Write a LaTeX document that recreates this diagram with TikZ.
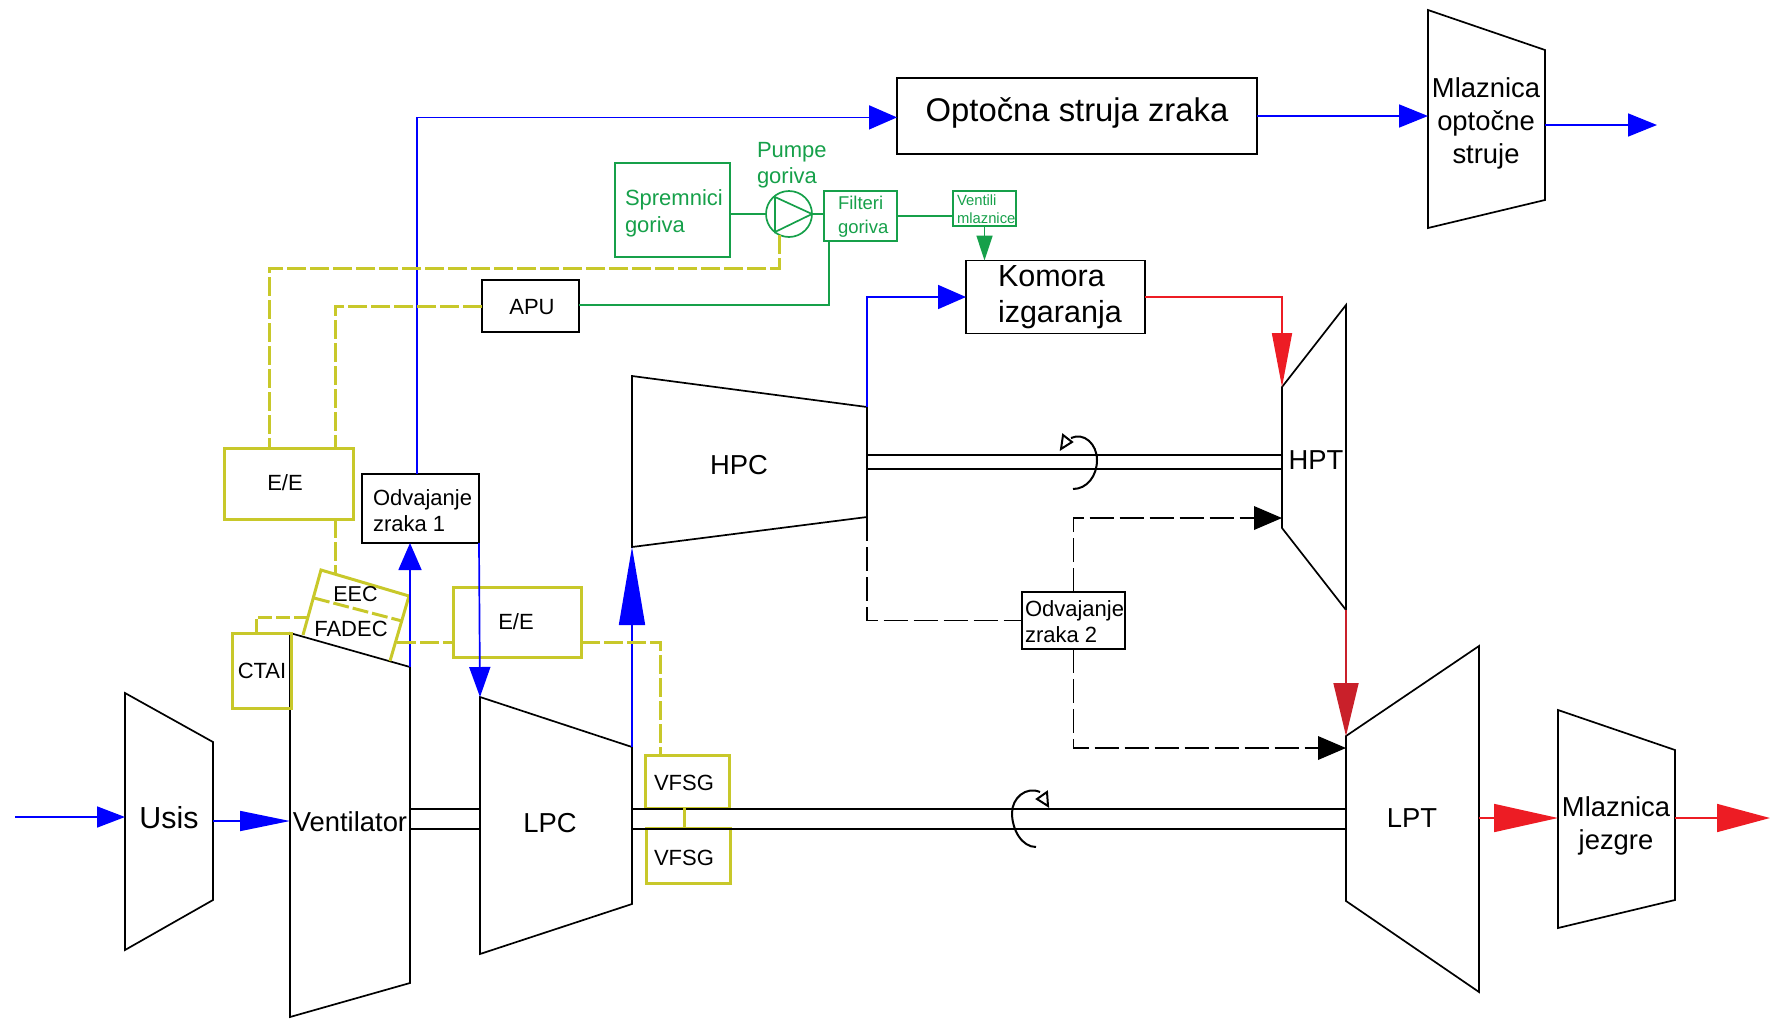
\documentclass[tikz,border=0pt]{standalone}
\usepackage{fontspec}
\setmainfont{Liberation Sans}
\usetikzlibrary{arrows.meta}
\definecolor{cblue}{HTML}{0000FF}
\definecolor{cgreen}{HTML}{16A04A}
\definecolor{colive}{HTML}{C8C82A}
\definecolor{cred}{HTML}{ED1C24}
\definecolor{ccrim}{HTML}{C9202A}
\tikzset{
  hd/.style 2 args={-{Triangle[length=#1pt,width=#2pt]}},
  outline/.style={draw=black,line width=1.7pt,line join=miter},
  box/.style={draw,line width=1.7pt,outer sep=0pt,inner sep=0pt,text=black},
  gbox/.style={box,draw=cgreen,text=cgreen},
  obox/.style={box,draw=colive,line width=3pt},
  lab/.style={inner sep=0pt,outer sep=0pt,align=center,font=\fontsize{27.4}{33}\selectfont},
  slab/.style={inner sep=0pt,outer sep=0pt,align=left,font=\fontsize{22}{26}\selectfont},
  bl/.style={draw=cblue,line width=1.7pt},
  gr/.style={draw=cgreen,line width=1.7pt},
  ol/.style={draw=colive,line width=3pt},
  oldash/.style={ol,dash pattern=on 19pt off 4pt},
  bldash/.style={draw=black,line width=1.7pt,dash pattern=on 24pt off 6pt},
  shaft/.style={draw=black,line width=1.7pt},
  rot/.style={draw=black,line width=2pt},
}
\begin{document}
\begin{tikzpicture}[x=1pt,y=-1pt]
\useasboundingbox (0,0) rectangle (1770,1018);
% corner and port coordinates
\coordinate (us1) at (125,693); \coordinate (us2) at (213,742); \coordinate (us3) at (213,900); \coordinate (us4) at (125,950);
\coordinate (ve1) at (290,633); \coordinate (ve2) at (410,667); \coordinate (ve3) at (410,983); \coordinate (ve4) at (290,1017);
\coordinate (lc1) at (480,697); \coordinate (lc2) at (632,747); \coordinate (lc3) at (632,904); \coordinate (lc4) at (480,954);
\coordinate (hc1) at (632,376); \coordinate (hc2) at (867,407); \coordinate (hc3) at (867,517); \coordinate (hc4) at (632,547);
\coordinate (ht1) at (1282,387); \coordinate (ht2) at (1346,305); \coordinate (ht3) at (1346,610); \coordinate (ht4) at (1282,528);
\coordinate (lt1) at (1346,736); \coordinate (lt2) at (1479,646); \coordinate (lt3) at (1479,992); \coordinate (lt4) at (1346,901);
\coordinate (mj1) at (1558,710); \coordinate (mj2) at (1675,750); \coordinate (mj3) at (1675,900); \coordinate (mj4) at (1558,928);
\coordinate (mo1) at (1428,10); \coordinate (mo2) at (1545,50); \coordinate (mo3) at (1545,200); \coordinate (mo4) at (1428,228);
% trapezoids
\draw[outline] (us1)--(us2)--(us3)--(us4)--cycle;
\draw[outline] (ve1)--(ve2)--(ve3)--(ve4)--cycle;
\draw[outline] (lc1)--(lc2)--(lc3)--(lc4)--cycle;
\draw[outline] (hc1)--(hc2)--(hc3)--(hc4)--cycle;
\draw[outline] (ht1)--(ht2)--(ht3)--(ht4)--cycle;
\draw[outline] (lt1)--(lt2)--(lt3)--(lt4)--cycle;
\draw[outline] (mj1)--(mj2)--(mj3)--(mj4)--cycle;
\draw[outline] (mo1)--(mo2)--(mo3)--(mo4)--cycle;
% trapezoid labels
\node[lab,font=\fontsize{30.4}{33}\selectfont] (tUsis) at (169,818) {Usis};
\node[lab] (tVent) at (350,822) {Ventilator};
\node[lab] (tLPC) at (550,823) {LPC};
\node[lab] (tHPC) at (739,465) {HPC};
\node[lab] (tHPT) at (1316,460) {HPT};
\node[lab] (tLPT) at (1412,818) {LPT};
\node[lab] (tMJ) at (1616,826) {Mlaznica\\jezgre};
\node[lab] (tMO) at (1486,123) {Mlaznica\\optočne\\struje};
% black boxes
\node[box,minimum width=360pt,minimum height=76pt] (opt) at (1077,116) {};
\node[lab,font=\fontsize{32.8}{36}\selectfont] (tOpt) at (1077,113) {Optočna struja zraka};
\node[box,minimum width=179pt,minimum height=73pt] (kom) at (1055.5,297) {};
\node[lab,align=left,anchor=west,font=\fontsize{30.5}{36}\selectfont] (tKom) at (998,297) {Komora\\izgaranja};
\node[box,minimum width=97pt,minimum height=52pt] (apu) at (530.5,306) {};
\node[slab] (tApu) at (532,307.5) {APU};
\node[box,minimum width=117pt,minimum height=69pt] (odvA) at (420.5,508.5) {};
\node[slab,anchor=west] (tOdvA) at (373,511) {Odvajanje\\zraka 1};
\node[box,minimum width=103pt,minimum height=57pt] (odvB) at (1073.5,620.5) {};
\node[slab,anchor=west] (tOdvB) at (1025,622) {Odvajanje\\zraka 2};
% olive boxes
\node[obox,minimum width=129pt,minimum height=71pt] (eeA) at (288.5,483.5) {};
\node[slab] (tEeA) at (285,482.5) {E/E};
\node[obox,minimum width=128pt,minimum height=70pt] (eeB) at (517,622) {};
\node[slab] (tEeB) at (516,621.5) {E/E};
\node[obox,minimum width=59pt,minimum height=75pt] (ctai) at (261.5,670.5) {};
\node[slab,font=\fontsize{22}{26}\selectfont] (tCtai) at (262,670.5) {CTAI};
\node[obox,minimum width=84pt,minimum height=53pt] (vfA) at (687,781.5) {};
\node[slab] (tVfA) at (684,783) {VFSG};
\node[obox,minimum width=84pt,minimum height=55pt] (vfB) at (688,855.5) {};
\node[slab] (tVfB) at (684,857.5) {VFSG};
% EEC / FADEC
\coordinate (ec1) at (321,570); \coordinate (ec2) at (409,596); \coordinate (ec3) at (390,661); \coordinate (ec4) at (303,635);
\coordinate (em1) at (314,598); \coordinate (em2) at (402,621);
\draw[ol] (ec4)--(ec1)--(ec2)--(ec3);
\draw[ol,dash pattern=on 16pt off 4pt] (em1)--(em2);
\node[slab,font=\fontsize{21.5}{26}\selectfont] (tEec) at (355.5,594) {EEC};
\node[slab,font=\fontsize{22}{26}\selectfont] (tFad) at (351,628.5) {FADEC};
% green boxes
\node[gbox,minimum width=115pt,minimum height=94pt] (spr) at (672.5,210) {};
\node[slab,anchor=west,text=cgreen,font=\fontsize{22}{27}\selectfont] (tSpr) at (625,213.5) {Spremnici\\goriva};
\node[lab,anchor=west,align=left,text=cgreen,font=\fontsize{22}{26}\selectfont] (tPum) at (757,165) {Pumpe\\goriva};
\node[gbox,minimum width=73pt,minimum height=50pt] (fil) at (860.5,216) {};
\node[slab,anchor=west,text=cgreen,font=\fontsize{18.5}{24}\selectfont] (tFil) at (838,217) {Filteri\\ goriva};
\node[gbox,minimum width=63pt,minimum height=35pt] (ven) at (984.5,208.5) {};
\node[slab,anchor=west,text=cgreen,font=\fontsize{14.8}{18}\selectfont] (tVen) at (957,209) {Ventili\\mlaznice};
\node[circle,draw=cgreen,line width=1.7pt,minimum size=46pt,inner sep=0pt,outer sep=0pt] (pump) at (789,214) {};
\coordinate (pa) at (775,197); \coordinate (pb) at (812,214); \coordinate (pc) at (775,232);
\draw[gr,line join=miter] (pa)--(pb)--(pc)--cycle;
% shafts
\coordinate (sa1) at (410,809); \coordinate (sa2) at (480,809); \coordinate (sa3) at (410,829); \coordinate (sa4) at (480,829);
\coordinate (sb1) at (632,809); \coordinate (sb2) at (1346,809); \coordinate (sb3) at (632,829); \coordinate (sb4) at (1346,829);
\coordinate (sc1) at (867,455); \coordinate (sc2) at (1282,455); \coordinate (sc3) at (867,469); \coordinate (sc4) at (1282,469);
\draw[shaft] (sa1)--(sa2); \draw[shaft] (sa3)--(sa4);
\draw[shaft] (sb1)--(sb2); \draw[shaft] (sb3)--(sb4);
\draw[shaft] (sc1)--(sc2); \draw[shaft] (sc3)--(sc4);
% rotation symbols
\coordinate (ra1) at (1036,847); \coordinate (ra2) at (1012,813); \coordinate (ra3) at (1040,792);
\draw[rot] (ra1) .. controls (1022,847) and (1012,830) .. (ra2) .. controls (1012,798) and (1026,786) .. (ra3);
\coordinate (rt1) at (1047,792); \coordinate (rt2) at (1048,806); \coordinate (rt3) at (1037,799);
\draw[rot,line join=miter,fill=white] (rt1)--(rt2)--(rt3)--cycle;
\coordinate (rb1) at (1073,489); \coordinate (rb2) at (1097,460); \coordinate (rb3) at (1071,438);
\draw[rot] (rb1) .. controls (1087,489) and (1097,476) .. (rb2) .. controls (1097,444) and (1084,432) .. (rb3);
\coordinate (rc1) at (1063,435); \coordinate (rc2) at (1061,449); \coordinate (rc3) at (1072,442);
\draw[rot,line join=miter,fill=white] (rc1)--(rc2)--(rc3)--cycle;
% blue flow
\coordinate (iS) at (15,817); \coordinate (iE) at (125,817);
\draw[bl,hd={28}{21}] (iS)--(iE);
\coordinate (uO) at (213,821); \coordinate (vI) at (290,821);
\draw[bl,hd={50}{20}] (uO)--(vI);
\coordinate (odvU) at (417,474); \coordinate (optW) at (897,117.4);
\draw[bl,hd={28}{24}] (odvU)--(odvU |- optW)--(optW);
\coordinate (odvI) at (410,543);
\draw[bl,hd={27}{23}] (ve2)--(odvI);
\draw[bl,hd={30}{21}] (odvA.south east)--(lc1);
\draw[bl,hd={78}{26}] (lc2)--(hc4);
\draw[bl,hd={28}{24}] (hc2)--(hc2 |- kom.west)--(kom.west);
\coordinate (moI) at (1428,116); \coordinate (moT) at (1317,116);
\draw[bl,hd={29}{23}] (opt.east)--(moI);
\draw[draw=cblue,line width=2.2pt] (moT)--(1400,116);
\coordinate (moO) at (1545,125); \coordinate (moE) at (1657,125);
\draw[bl,hd={29}{23}] (moO)--(moE);
% red flow
\draw[draw=cred,line width=1.7pt,hd={54}{20}] (kom.east)--(ht1 |- kom.east)--(ht1);
\draw[draw=ccrim,line width=1.7pt,hd={53}{25}] (ht3)--(lt1);
\coordinate (ltO) at (1479,818); \coordinate (mjI) at (1558,818);
\draw[draw=cred,line width=1.7pt,hd={64}{28}] (ltO)--(mjI);
\coordinate (mjO) at (1675,818); \coordinate (mjE) at (1770,818);
\draw[draw=cred,line width=1.7pt,hd={53}{28}] (mjO)--(mjE);
% black dashed
\draw[bldash] (hc3)--(hc3 |- odvB.west)--(odvB.west);
\coordinate (htI) at (1282,518); \coordinate (ltI) at (1346,748);
\draw[bldash] (odvB.north)--(odvB.north |- htI)--(1254,518);
\fill[black] (htI)--(1254,506)--(1254,530)--cycle;
\draw[bldash] (odvB.south)--(odvB.south |- ltI)--(1318,748);
\fill[black] (ltI)--(1318,736)--(1318,760)--cycle;
% green connectors
\coordinate (lft) at (829,241); \coordinate (fltA) at (829,305);
\draw[gr] (spr.east |- pump.west)--(pump.west);
\draw[gr] (pump.east)--(fil.west |- pump.east);
\draw[gr] (fil.east)--(ven.west |- fil.east);
\draw[gr,hd={25}{16}] (ven.south)--(kom.north -| ven.south);
\draw[gr] (lft)--(fltA)--(apu.east |- fltA);
% olive connectors
\coordinate (pD) at (779,235); \coordinate (pE) at (779,268); \coordinate (eX) at (269,448);
\draw[oldash] (pD)--(pE)--(eX |- pE)--(eX);
\coordinate (eY) at (335,448);
\draw[oldash] (apu.west)--(eY |- apu.west)--(eY);
\coordinate (eZ) at (335,519); \coordinate (eW) at (335,573);
\draw[oldash] (eZ)--(eW);
\coordinate (ca1) at (256,633); \coordinate (ca2) at (256,617); \coordinate (ca3) at (307,617);
\draw[ol,dash pattern=on 14pt off 4pt] (ca1)--(ca2)--(ca3);
\coordinate (fa1) at (397,642); \coordinate (fa2) at (453,642);
\draw[oldash] (fa1)--(fa2);
\coordinate (fb1) at (581,642); \coordinate (fb2) at (660,642); \coordinate (fb3) at (660,755);
\draw[oldash] (fb1)--(fb2)--(fb3);
\draw[ol] (vfA.south -| 684,0)--(vfB.north -| 684,0);
\end{tikzpicture}
\end{document}
